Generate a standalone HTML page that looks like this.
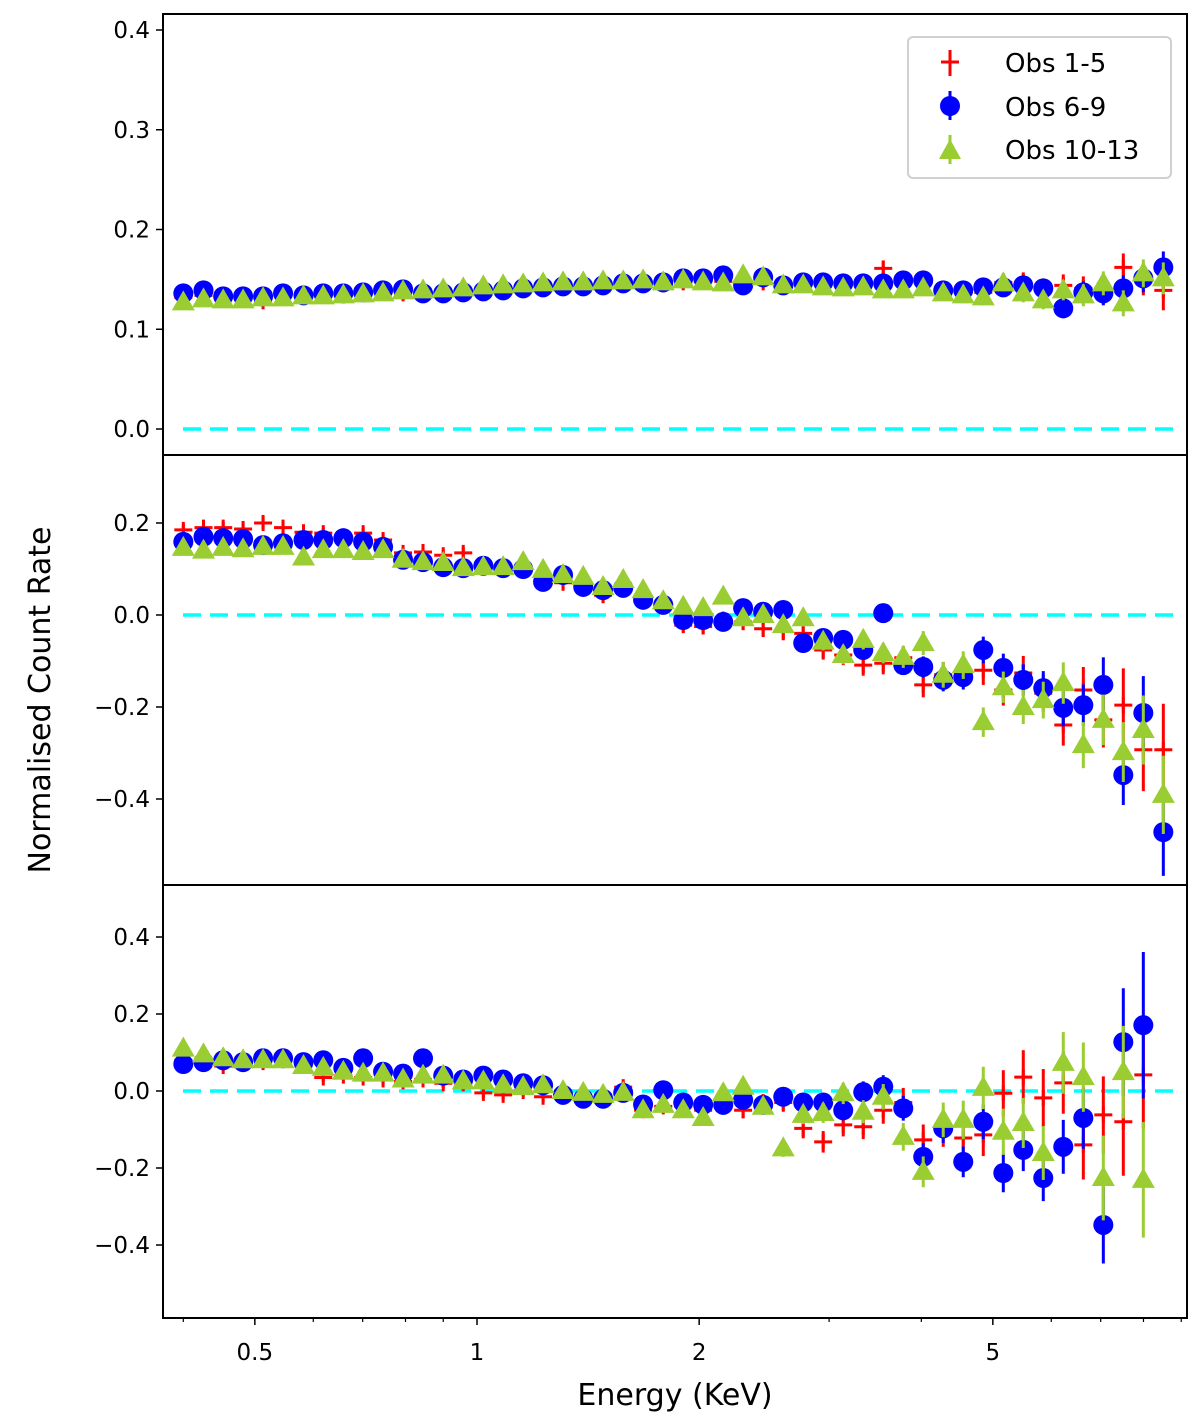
<!DOCTYPE html>
<html><head><meta charset="utf-8"><style>
html,body{margin:0;padding:0;background:#fff;}
svg{display:block;font-family:"DejaVu Sans","Liberation Sans",sans-serif;}
</style></head><body>
<svg id="chart" width="1200" height="1418" viewBox="0 0 1200 1418" xmlns="http://www.w3.org/2000/svg">
<g id="plots"></g>
<g id="frame"></g>
<text x="675" y="1405" font-size="30" text-anchor="middle">Energy (KeV)</text>
<text x="50" y="700" font-size="30" text-anchor="middle" transform="rotate(-90 50 700)">Normalised Count Rate</text>
<g>
<rect x="908" y="37" width="263" height="141" rx="5" fill="#fff" stroke="#d0d0d0" stroke-width="2"/>
<g>
<line x1="950" y1="50" x2="950" y2="76" stroke="#ff0000" stroke-width="3"/><line x1="941" y1="62" x2="959" y2="62" stroke="#ff0000" stroke-width="3"/>
<text x="1005" y="72" font-size="26">Obs 1-5</text></g>
<g>
<line x1="950" y1="91" x2="950" y2="120" stroke="#0000ff" stroke-width="3"/><circle cx="950" cy="106" r="10" fill="#0000ff"/>
<text x="1005" y="116" font-size="26">Obs 6-9</text></g>
<g>
<line x1="950" y1="135" x2="950" y2="164" stroke="#9acd32" stroke-width="3"/><polygon points="950,139 961,159 939,159" fill="#9acd32"/>
<text x="1005" y="159" font-size="26">Obs 10-13</text></g>
</g>
</svg>
<script>
const energies=[0.400,0.426,0.453,0.482,0.513,0.546,0.582,0.619,0.659,0.701,0.746,0.794,0.845,0.900,0.958,1.020,1.085,1.155,1.229,1.308,1.393,1.482,1.578,1.679,1.788,1.903,2.025,2.156,2.294,2.442,2.600,2.767,2.945,3.135,3.337,3.552,3.781,4.024,4.283,4.559,4.853,5.166,5.498,5.852,6.229,6.631,7.058,7.512,7.996,8.511];
const xTickValues=[0.5,1,2,5];
const xTickLabels=["0.5","1","2","5"];
const xMinorTicks=[0.4,0.6,0.7,0.8,0.9,3,4,6,7,8,9];
// top panel
const topRed=[0.132,0.134,0.131,0.132,0.128,0.135,0.133,0.134,0.134,0.136,0.137,0.136,0.135,0.137,0.139,0.140,0.141,0.142,0.143,0.144,0.145,0.144,0.146,0.145,0.145,0.147,0.148,0.148,0.143,0.147,0.144,0.145,0.145,0.145,0.144,0.161,0.148,0.147,0.140,0.138,0.137,0.147,0.147,0.141,0.144,0.141,0.138,0.162,0.150,0.139];
const topBlue=[0.136,0.139,0.133,0.133,0.133,0.136,0.134,0.136,0.136,0.137,0.139,0.140,0.136,0.136,0.137,0.138,0.139,0.141,0.142,0.143,0.143,0.144,0.146,0.146,0.147,0.151,0.151,0.154,0.144,0.152,0.144,0.147,0.147,0.146,0.146,0.146,0.149,0.149,0.139,0.139,0.142,0.142,0.144,0.141,0.121,0.137,0.136,0.141,0.151,0.162];
const topGreen=[0.127,0.130,0.129,0.129,0.131,0.131,0.133,0.133,0.134,0.135,0.136,0.138,0.139,0.140,0.141,0.143,0.144,0.145,0.146,0.147,0.147,0.148,0.148,0.149,0.147,0.149,0.147,0.146,0.154,0.152,0.144,0.144,0.142,0.141,0.142,0.139,0.139,0.141,0.136,0.134,0.132,0.146,0.136,0.129,0.139,0.134,0.146,0.126,0.156,0.151];
const topRedErr=[0.004,0.004,0.004,0.004,0.004,0.004,0.004,0.004,0.004,0.004,0.004,0.004,0.004,0.004,0.004,0.004,0.004,0.004,0.004,0.005,0.005,0.005,0.005,0.005,0.005,0.005,0.005,0.006,0.006,0.006,0.006,0.006,0.006,0.007,0.007,0.007,0.007,0.008,0.008,0.008,0.009,0.009,0.010,0.010,0.011,0.012,0.013,0.014,0.016,0.020];
const topBlueErr=[0.003,0.003,0.003,0.003,0.003,0.003,0.003,0.003,0.003,0.003,0.003,0.003,0.003,0.003,0.003,0.003,0.003,0.003,0.003,0.004,0.004,0.004,0.004,0.004,0.004,0.004,0.004,0.005,0.005,0.005,0.005,0.005,0.005,0.006,0.006,0.006,0.006,0.007,0.007,0.007,0.008,0.008,0.009,0.009,0.010,0.011,0.012,0.013,0.014,0.016];
const topGreenErr=topBlueErr;
// middle panel
const midRed=[0.185,0.190,0.190,0.187,0.200,0.190,0.180,0.178,0.170,0.178,0.163,0.135,0.137,0.130,0.135,0.110,0.105,0.100,0.070,0.070,0.060,0.043,0.060,0.035,0.025,-0.022,-0.025,-0.010,-0.015,-0.030,-0.036,-0.040,-0.076,-0.087,-0.109,-0.105,-0.093,-0.152,-0.130,-0.125,-0.120,-0.163,-0.126,-0.170,-0.239,-0.163,-0.228,-0.196,-0.293,-0.293];
const midBlue=[0.159,0.170,0.167,0.165,0.152,0.156,0.163,0.163,0.167,0.159,0.148,0.120,0.115,0.104,0.102,0.107,0.102,0.100,0.072,0.087,0.061,0.054,0.059,0.033,0.022,-0.011,-0.011,-0.015,0.015,0.007,0.011,-0.061,-0.050,-0.054,-0.076,0.004,-0.109,-0.113,-0.141,-0.135,-0.076,-0.115,-0.141,-0.159,-0.202,-0.196,-0.152,-0.348,-0.213,-0.472];
const midGreen=[0.146,0.140,0.146,0.143,0.148,0.148,0.125,0.141,0.141,0.137,0.141,0.120,0.115,0.113,0.102,0.104,0.104,0.115,0.098,0.087,0.083,0.061,0.076,0.054,0.030,0.018,0.015,0.040,-0.007,0.000,-0.022,-0.007,-0.058,-0.087,-0.054,-0.083,-0.091,-0.061,-0.130,-0.109,-0.233,-0.157,-0.200,-0.185,-0.148,-0.283,-0.228,-0.298,-0.250,-0.391];
const midRedErr=[0.012,0.012,0.012,0.012,0.012,0.012,0.012,0.012,0.012,0.012,0.012,0.012,0.012,0.012,0.012,0.012,0.012,0.012,0.012,0.014,0.014,0.014,0.014,0.015,0.015,0.016,0.016,0.017,0.018,0.018,0.019,0.020,0.021,0.022,0.023,0.024,0.025,0.027,0.028,0.030,0.032,0.034,0.037,0.040,0.045,0.050,0.060,0.080,0.090,0.100];
const midBlueErr=[0.008,0.008,0.008,0.008,0.008,0.008,0.008,0.008,0.008,0.008,0.008,0.008,0.008,0.008,0.008,0.008,0.008,0.008,0.009,0.009,0.010,0.010,0.010,0.011,0.011,0.012,0.012,0.013,0.013,0.014,0.015,0.016,0.017,0.018,0.019,0.020,0.021,0.023,0.025,0.027,0.029,0.031,0.034,0.037,0.040,0.045,0.060,0.065,0.080,0.095];
const midGreenErr=[0.010,0.010,0.010,0.010,0.010,0.010,0.010,0.010,0.010,0.010,0.010,0.010,0.010,0.010,0.010,0.010,0.010,0.010,0.010,0.011,0.011,0.011,0.012,0.012,0.013,0.013,0.014,0.014,0.015,0.016,0.017,0.018,0.019,0.020,0.021,0.022,0.024,0.026,0.028,0.030,0.032,0.034,0.037,0.040,0.045,0.050,0.055,0.065,0.075,0.085];
// bottom panel (last bin empty)
const botRed=[0.080,0.075,0.065,0.070,0.075,0.090,0.065,0.035,0.040,0.035,0.030,0.025,0.030,0.020,0.020,-0.005,-0.010,0.000,-0.015,0.000,-0.020,-0.010,0.010,-0.050,-0.040,-0.040,-0.050,-0.040,-0.050,-0.030,-0.030,-0.097,-0.132,-0.088,-0.093,-0.050,-0.030,-0.127,-0.100,-0.122,-0.114,-0.006,0.036,-0.018,0.021,-0.140,-0.062,-0.080,0.042,null];
const botBlue=[0.070,0.075,0.080,0.075,0.085,0.085,0.075,0.080,0.060,0.085,0.050,0.045,0.085,0.040,0.030,0.040,0.030,0.020,0.015,-0.010,-0.020,-0.020,-0.005,-0.035,0.002,-0.030,-0.036,-0.036,-0.023,-0.036,-0.015,-0.030,-0.030,-0.050,-0.003,0.011,-0.045,-0.171,-0.097,-0.184,-0.080,-0.213,-0.153,-0.226,-0.145,-0.070,-0.348,0.127,0.171,null];
const botGreen=[0.110,0.095,0.085,0.080,0.080,0.080,0.065,0.060,0.050,0.045,0.045,0.030,0.040,0.040,0.025,0.025,0.015,0.010,0.015,0.000,-0.005,-0.010,-0.005,-0.050,-0.036,-0.050,-0.070,-0.006,0.011,-0.041,-0.149,-0.062,-0.057,-0.006,-0.054,-0.015,-0.119,-0.210,-0.075,-0.075,0.008,-0.106,-0.083,-0.161,0.073,0.036,-0.226,0.049,-0.231,null];
const botRedErr=[0.012,0.012,0.012,0.012,0.012,0.012,0.012,0.012,0.012,0.012,0.012,0.012,0.012,0.012,0.012,0.012,0.013,0.013,0.013,0.014,0.014,0.015,0.015,0.016,0.017,0.018,0.019,0.020,0.021,0.022,0.024,0.026,0.028,0.030,0.032,0.035,0.038,0.040,0.045,0.050,0.055,0.060,0.070,0.075,0.080,0.090,0.100,0.140,0.140,0];
const botBlueErr=[0.008,0.008,0.008,0.008,0.008,0.008,0.008,0.008,0.008,0.008,0.008,0.008,0.008,0.008,0.008,0.008,0.009,0.009,0.009,0.010,0.010,0.011,0.011,0.012,0.013,0.014,0.015,0.016,0.017,0.018,0.020,0.022,0.024,0.026,0.028,0.030,0.032,0.035,0.038,0.040,0.045,0.050,0.055,0.060,0.070,0.080,0.100,0.140,0.190,0];
const botGreenErr=[0.010,0.010,0.010,0.010,0.010,0.010,0.010,0.010,0.010,0.010,0.010,0.010,0.010,0.010,0.010,0.010,0.011,0.011,0.011,0.012,0.012,0.013,0.013,0.014,0.015,0.016,0.017,0.018,0.019,0.020,0.022,0.024,0.026,0.028,0.030,0.033,0.036,0.040,0.045,0.050,0.055,0.060,0.065,0.070,0.080,0.090,0.110,0.120,0.150,0];
const topTicks=[0.0,0.1,0.2,0.3,0.4];
const midTicks=[-0.4,-0.2,0.0,0.2];
const botTicks=[-0.4,-0.2,0.0,0.2,0.4];

const NS='http://www.w3.org/2000/svg';
const X0=163,X1=1187;
function xScale(e){return 477+738*Math.log10(e);}
function mk(tag,attrs,parent){const el=document.createElementNS(NS,tag);for(const k in attrs)el.setAttribute(k,attrs[k]);parent.appendChild(el);return el;}
const plots=document.getElementById('plots');
const frame=document.getElementById('frame');

const panels=[
 {name:'top',top:14,bot:455,zeroY:429,ppu:997.5,ticks:topTicks,series:[[topRed,topRedErr],[topBlue,topBlueErr],[topGreen,topGreenErr]]},
 {name:'middle',top:455,bot:885,zeroY:615,ppu:460,ticks:midTicks,series:[[midRed,midRedErr],[midBlue,midBlueErr],[midGreen,midGreenErr]]},
 {name:'bottom',top:885,bot:1318,zeroY:1091,ppu:385,ticks:botTicks,series:[[botRed,botRedErr],[botBlue,botBlueErr],[botGreen,botGreenErr]]}
];
const colors=['#ff0000','#0000ff','#9acd32'];
const seriesNames=['obs-1-5','obs-6-9','obs-10-13'];
const tickFmt=v=>(v<0?'\u2212':'')+Math.abs(v).toFixed(1);

panels.forEach(p=>{
 const yS=v=>p.zeroY-p.ppu*v;
 const g=mk('g',{},plots);
 
 
 const zl=mk('line',{x1:183,x2:1180,y1:yS(0),y2:yS(0),stroke:'#00ffff','stroke-width':3.5,'stroke-dasharray':'18 9'},g);
 
 
 p.series.forEach((s,si)=>{
  const vals=s[0],errs=s[1];
  const sg=mk('g',{},g);
  
  
  vals.forEach((v,i)=>{
   if(v===null||v===undefined)return;
   const x=xScale(energies[i]),y=yS(v),e=errs[i]*p.ppu;
   const eb=mk('line',{x1:x,x2:x,y1:y-Math.max(e,1),y2:y+Math.max(e,1),stroke:colors[si],'stroke-width':3},sg);
   
   
   let m;
   if(si===0){m=mk('line',{x1:x-9,x2:x+9,y1:y,y2:y,stroke:colors[si],'stroke-width':3},sg);
    const v2=mk('line',{x1:x,x2:x,y1:y-8,y2:y+8,stroke:colors[si],'stroke-width':3},sg);
    
    }
   else if(si===1){m=mk('circle',{cx:x,cy:y,r:10,fill:colors[si]},sg);}
   else{m=mk('polygon',{points:`${x},${y-12} ${x+11.5},${y+8} ${x-11.5},${y+8}`,fill:colors[si]},sg);}
   
   
  });
 });
 p.ticks.forEach(t=>{
  const y=yS(t);
  const tl=mk('line',{x1:X0-7,x2:X0,y1:y,y2:y,stroke:'#000','stroke-width':1.5},frame);
  
  
  const tx=mk('text',{x:X0-13,y:y+8,'font-size':23,'text-anchor':'end'},frame);
  tx.textContent=tickFmt(t);
  
  
 });
 const r=mk('rect',{x:X0,y:p.top,width:X1-X0,height:p.bot-p.top,fill:'none',stroke:'#000','stroke-width':2},frame);
 
 
});
xTickValues.forEach((v,i)=>{
 const x=xScale(v);
 const tl=mk('line',{x1:x,x2:x,y1:1318,y2:1325,stroke:'#000','stroke-width':1.5},frame);
 
 
 const tx=mk('text',{x:x,y:1360,'font-size':23,'text-anchor':'middle'},frame);
 tx.textContent=xTickLabels[i];
 
 
});
xMinorTicks.forEach(v=>{
 const x=xScale(v);
 const tl=mk('line',{x1:x,x2:x,y1:1318,y2:1322,stroke:'#000','stroke-width':1.2},frame);
 
 
});
</script>
</body></html>
